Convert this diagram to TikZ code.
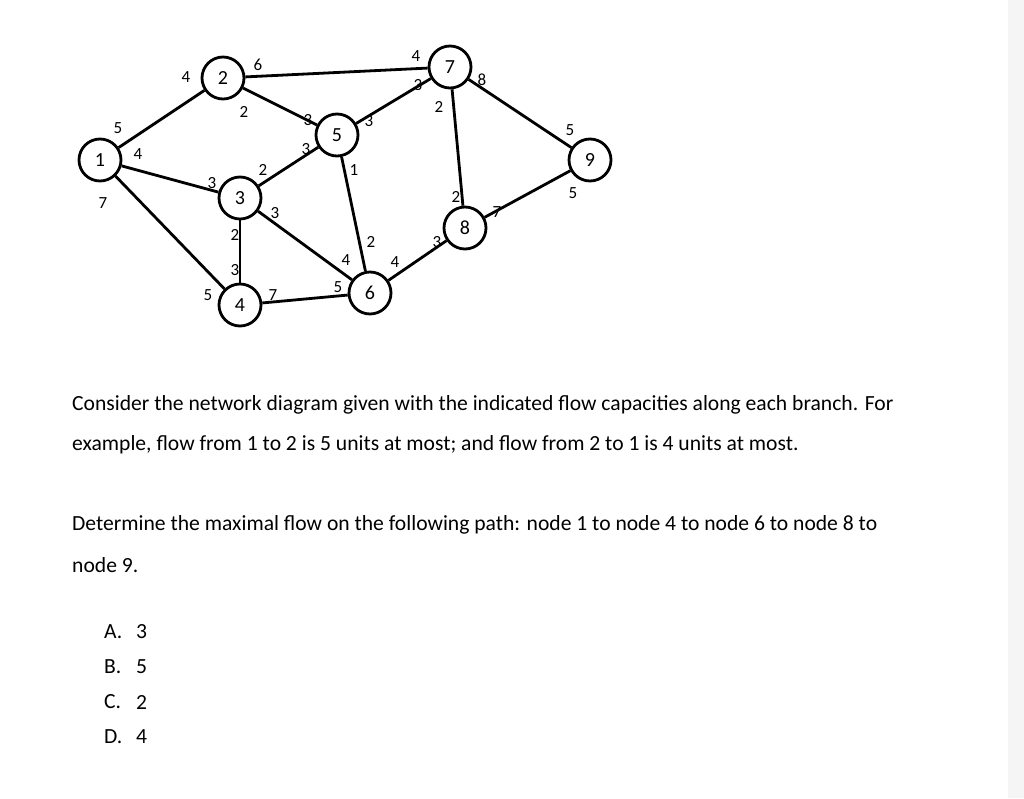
\documentclass[tikz,border=0pt]{standalone}
\usepackage{fontspec}
\setmainfont{Carlito}
\begin{document}
\begin{tikzpicture}[x=1pt,y=-1pt,
 nd/.style={circle,draw,line width=2.8pt,minimum size=42pt,inner sep=0pt,font=\fontsize{20}{20}\selectfont,fill=white},
 lb/.style={font=\fontsize{17}{17}\selectfont,inner sep=0pt},
 ed/.style={line width=2.8pt},
 tx/.style={anchor=west,inner sep=0pt,font=\fontsize{21.6}{26}\selectfont}]
\useasboundingbox (0,0) rectangle (1024,798);
\fill[gray!8] (1008,0) rectangle (1024,798);
\node[nd] (n1) at (100,160) {1};
\node[nd] (n2) at (223,78) {2};
\node[nd] (n3) at (240,198) {3};
\node[nd] (n4) at (240,305) {4};
\node[nd] (n5) at (337,135) {5};
\node[nd] (n6) at (370,293) {6};
\node[nd] (n7) at (450,67) {7};
\node[nd] (n8) at (465,228) {8};
\node[nd] (n9) at (590,160) {9};
\foreach \a/\b in {1/2,1/3,1/4,2/7,2/5,3/5,3/4,3/6,4/6,5/6,5/7,7/8,7/9,6/8,8/9}
  \draw[ed] (n\a) -- (n\b);
\node[lb] (l1) at (118,128) {5};
\node[lb] (l2) at (186,77) {4};
\node[lb] (l3) at (258,65) {6};
\node[lb] (l4) at (244,112) {2};
\node[lb] (l5) at (308,120) {3};
\node[lb] (l6) at (306,149) {3};
\node[lb] (l7) at (138,154) {4};
\node[lb] (l8) at (212,183) {3};
\node[lb] (l9) at (263,170) {2};
\node[lb] (l10) at (103,203) {7};
\node[lb] (l11) at (275,213) {3};
\node[lb] (l12) at (235,235) {2};
\node[lb] (l13) at (235,270) {3};
\node[lb] (l14) at (208,295) {5};
\node[lb] (l15) at (273,295) {7};
\node[lb] (l16) at (346,260) {4};
\node[lb] (l17) at (338,287) {5};
\node[lb] (l18) at (354,170) {1};
\node[lb] (l19) at (416,56) {4};
\node[lb] (l20) at (418,85) {3};
\node[lb] (l21) at (482,80) {8};
\node[lb] (l22) at (439,107) {2};
\node[lb] (l23) at (369,121) {3};
\node[lb] (l24) at (371,242) {2};
\node[lb] (l25) at (395,262) {4};
\node[lb] (l26) at (456,197) {2};
\node[lb] (l27) at (437,242) {3};
\node[lb] (l28) at (497,212) {7};
\node[lb] (l29) at (570,130) {5};
\node[lb] (l30) at (573,193) {5};
\node[tx] (t1) at (72,405) {Consider the network diagram given with the indicated flow capacities along each branch. For};
\node[tx] (t2) at (72,445) {example, flow from 1 to 2 is 5 units at most; and flow from 2 to 1 is 4 units at most.};
\node[tx] (t3) at (72,525) {Determine the maximal flow on the following path: node 1 to node 4 to node 6 to node 8 to};
\node[tx] (t4) at (72,565) {node 9.};
\foreach \l/\v/\y in {A/3/632,B/5/667,C/2/702,D/4/737}{
  \node[tx] (o\l) at (104,\y) {\l.};
  \node[tx] (v\l) at (136,\y) {\v};}
\end{tikzpicture}
\end{document}
